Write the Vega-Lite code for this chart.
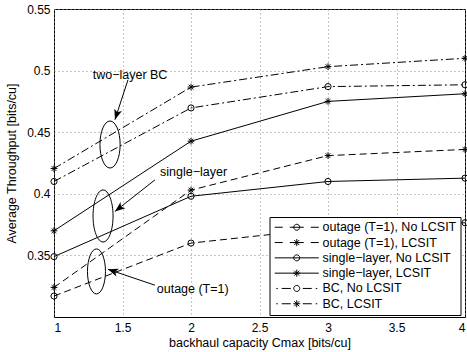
{
  "$schema": "https://vega.github.io/schema/vega-lite/v6.json",
  "width": 411,
  "height": 308,
  "autosize": "none",
  "padding": {"left": 54, "top": 9, "right": 2, "bottom": 35},
  "config": {
    "font": "Liberation Sans",
    "view": {"stroke": "black", "strokeWidth": 1},
    "axis": {
      "domain": false,
      "ticks": false,
      "grid": true,
      "gridColor": "#8c8c8c",
      "gridDash": [1, 3],
      "gridWidth": 1,
      "labelFont": "Liberation Sans",
      "titleFont": "Liberation Sans",
      "labelFontSize": 12,
      "labelColor": "black",
      "titleFontSize": 12.5,
      "titleFontWeight": "normal",
      "titleColor": "black"
    },
    "legend": {
      "labelFont": "Liberation Sans"
    }
  },
  "datasets": {
    "curves": [
      {"series": "outage (T=1), No LCSIT", "x": 1, "y": 0.317},
      {"series": "outage (T=1), No LCSIT", "x": 2, "y": 0.360},
      {"series": "outage (T=1), No LCSIT", "x": 3, "y": 0.372},
      {"series": "outage (T=1), No LCSIT", "x": 4, "y": 0.3765},
      {"series": "outage (T=1), LCSIT", "x": 1, "y": 0.324},
      {"series": "outage (T=1), LCSIT", "x": 2, "y": 0.403},
      {"series": "outage (T=1), LCSIT", "x": 3, "y": 0.431},
      {"series": "outage (T=1), LCSIT", "x": 4, "y": 0.436},
      {"series": "single−layer, No LCSIT", "x": 1, "y": 0.349},
      {"series": "single−layer, No LCSIT", "x": 2, "y": 0.398},
      {"series": "single−layer, No LCSIT", "x": 3, "y": 0.410},
      {"series": "single−layer, No LCSIT", "x": 4, "y": 0.4127},
      {"series": "single−layer, LCSIT", "x": 1, "y": 0.370},
      {"series": "single−layer, LCSIT", "x": 2, "y": 0.4427},
      {"series": "single−layer, LCSIT", "x": 3, "y": 0.475},
      {"series": "single−layer, LCSIT", "x": 4, "y": 0.4812},
      {"series": "BC, No LCSIT", "x": 1, "y": 0.410},
      {"series": "BC, No LCSIT", "x": 2, "y": 0.4697},
      {"series": "BC, No LCSIT", "x": 3, "y": 0.487},
      {"series": "BC, No LCSIT", "x": 4, "y": 0.4885},
      {"series": "BC, LCSIT", "x": 1, "y": 0.4205},
      {"series": "BC, LCSIT", "x": 2, "y": 0.4866},
      {"series": "BC, LCSIT", "x": 3, "y": 0.5032},
      {"series": "BC, LCSIT", "x": 4, "y": 0.510}
    ],
    "notes": [
      {"label": "two−layer BC", "x": 1.2825, "y": 0.4968},
      {"label": "single−layer", "x": 1.774, "y": 0.4177},
      {"label": "outage (T=1)", "x": 1.75, "y": 0.3231}
    ],
    "arrows": [
      {"id": "bc", "x": 1.445, "y": 0.4602, "x2": 1.54, "y2": 0.4925},
      {"id": "single", "x": 1.445, "y": 0.3857, "x2": 1.737, "y2": 0.4113},
      {"id": "outage", "x": 1.394, "y": 0.3387, "x2": 1.737, "y2": 0.3258}
    ],
    "ellipses": [
      {"id": "bc", "x": 1.409, "y": 0.440},
      {"id": "single", "x": 1.358, "y": 0.382},
      {"id": "outage", "x": 1.31, "y": 0.337}
    ]
  },
  "encoding": {
    "x": {
      "field": "x",
      "type": "quantitative",
      "scale": {"domain": [1, 4], "nice": false, "zero": false},
      "axis": {"title": "backhaul capacity Cmax [bits/cu]", "values": [1, 1.5, 2, 2.5, 3, 3.5, 4], "format": "~g", "labelPadding": 5, "titlePadding": 3}
    },
    "y": {
      "field": "y",
      "type": "quantitative",
      "scale": {"domain": [0.3, 0.55], "nice": false, "zero": false},
      "axis": {"title": "Average Throughput [bits/cu]", "values": [0.35, 0.4, 0.45, 0.5, 0.55], "format": "~g", "labelPadding": 4, "titlePadding": 8}
    }
  },
  "layer": [
    {
      "data": {"name": "curves"},
      "transform": [{"filter": "indexof(datum.series, 'outage') >= 0"}],
      "mark": {"type": "line", "color": "black", "strokeWidth": 1, "strokeDash": [7, 4]},
      "encoding": {"detail": {"field": "series"}}
    },
    {
      "data": {"name": "curves"},
      "transform": [{"filter": "indexof(datum.series, 'single') >= 0"}],
      "mark": {"type": "line", "color": "black", "strokeWidth": 1},
      "encoding": {"detail": {"field": "series"}}
    },
    {
      "data": {"name": "curves"},
      "transform": [{"filter": "indexof(datum.series, 'BC') >= 0"}],
      "mark": {"type": "line", "color": "black", "strokeWidth": 1, "strokeDash": [8, 3, 2, 3]},
      "encoding": {"detail": {"field": "series"}}
    },
    {
      "data": {"name": "curves"},
      "transform": [{"filter": "indexof(datum.series, 'No LCSIT') >= 0"}],
      "mark": {"type": "point", "shape": "circle", "filled": false, "stroke": "black", "strokeWidth": 1, "opacity": 1, "size": 38},
      "encoding": {}
    },
    {
      "data": {"name": "curves"},
      "transform": [{"filter": "indexof(datum.series, 'No LCSIT') < 0"}],
      "mark": {"type": "point", "shape": "M0,-1V1M-1,0H1M-0.7,-0.7L0.7,0.7M-0.7,0.7L0.7,-0.7", "filled": false, "stroke": "black", "strokeWidth": 1, "opacity": 1, "size": 45},
      "encoding": {}
    },
    {
      "data": {"name": "curves"},
      "mark": {"type": "point", "filled": false, "stroke": "black", "strokeWidth": 1, "opacity": 0, "size": 100},
      "encoding": {
        "shape": {
          "field": "series",
          "type": "nominal",
          "scale": {
            "domain": ["outage (T=1), No LCSIT", "outage (T=1), LCSIT", "single−layer, No LCSIT", "single−layer, LCSIT", "BC, No LCSIT", "BC, LCSIT"],
            "range": [
              "M-1,0H0.6M2,0H4.8M6.2,0H7.8M4,0A0.6,0.6 0 1 1 2.8,0A0.6,0.6 0 1 1 4,0",
              "M-1,0H0.6M2,0H4.8M6.2,0H7.8M3.4,-0.7V0.7M2.7,0H4.1M2.9,-0.5L3.9,0.5M2.9,0.5L3.9,-0.5",
              "M-1,0H7.8M4,0A0.6,0.6 0 1 1 2.8,0A0.6,0.6 0 1 1 4,0",
              "M-1,0H7.8M3.4,-0.7V0.7M2.7,0H4.1M2.9,-0.5L3.9,0.5M2.9,0.5L3.9,-0.5",
              "M-0.7,0H-0.4M0.4,0H2.2M4.6,0H6.4M7.2,0H7.5M4,0A0.6,0.6 0 1 1 2.8,0A0.6,0.6 0 1 1 4,0",
              "M-0.7,0H-0.4M0.4,0H2.2M4.6,0H6.4M7.2,0H7.5M3.4,-0.7V0.7M2.7,0H4.1M2.9,-0.5L3.9,0.5M2.9,0.5L3.9,-0.5"
            ]
          },
          "legend": {
            "title": null,
            "orient": "none",
            "legendX": 215.5,
            "legendY": 208,
            "padding": 4,
            "strokeColor": "black",
            "fillColor": "white",
            "cornerRadius": 0,
            "labelFontSize": 12.5,
            "labelColor": "black",
            "labelOffset": 36.5,
            "rowPadding": 2.3,
            "symbolSize": 100,
            "symbolOpacity": 1,
            "symbolStrokeWidth": 1,
            "symbolStrokeColor": "black",
            "symbolFillColor": "transparent"
          }
        }
      }
    },
    {
      "data": {"name": "notes"},
      "mark": {"type": "text", "align": "left", "baseline": "middle", "fontSize": 12.5, "color": "black", "font": "Liberation Sans"},
      "encoding": {"text": {"field": "label"}}
    },
    {
      "data": {"name": "arrows"},
      "mark": {"type": "rule", "color": "black", "strokeWidth": 1},
      "encoding": {"x2": {"field": "x2"}, "y2": {"field": "y2"}}
    },
    {
      "data": {"name": "arrows"},
      "transform": [{"filter": "datum.id == 'bc'"}],
      "mark": {"type": "point", "shape": "M0,0L0.7,1.8L0,1.35L-0.7,1.8Z", "angle": 198, "size": 130, "filled": true, "color": "black", "opacity": 1},
      "encoding": {}
    },
    {
      "data": {"name": "arrows"},
      "transform": [{"filter": "datum.id == 'single'"}],
      "mark": {"type": "point", "shape": "M0,0L0.7,1.8L0,1.35L-0.7,1.8Z", "angle": 231.6, "size": 130, "filled": true, "color": "black", "opacity": 1},
      "encoding": {}
    },
    {
      "data": {"name": "arrows"},
      "transform": [{"filter": "datum.id == 'outage'"}],
      "mark": {"type": "point", "shape": "M0,0L0.7,1.8L0,1.35L-0.7,1.8Z", "angle": 288.8, "size": 130, "filled": true, "color": "black", "opacity": 1},
      "encoding": {}
    },
    {
      "data": {"name": "ellipses"},
      "transform": [{"filter": "datum.id == 'bc'"}],
      "mark": {"type": "point", "shape": "M0,-1A0.43,1 0 1 1 0,1A0.43,1 0 1 1 0,-1", "size": 2209, "filled": false, "stroke": "black", "strokeWidth": 1, "opacity": 1},
      "encoding": {}
    },
    {
      "data": {"name": "ellipses"},
      "transform": [{"filter": "datum.id == 'single'"}],
      "mark": {"type": "point", "shape": "M0,-1A0.385,1 0 1 1 0,1A0.385,1 0 1 1 0,-1", "size": 2704, "filled": false, "stroke": "black", "strokeWidth": 1, "opacity": 1},
      "encoding": {}
    },
    {
      "data": {"name": "ellipses"},
      "transform": [{"filter": "datum.id == 'outage'"}],
      "mark": {"type": "point", "shape": "M0,-1A0.4,1 0 1 1 0,1A0.4,1 0 1 1 0,-1", "size": 2025, "filled": false, "stroke": "black", "strokeWidth": 1, "opacity": 1},
      "encoding": {}
    }
  ]
}
